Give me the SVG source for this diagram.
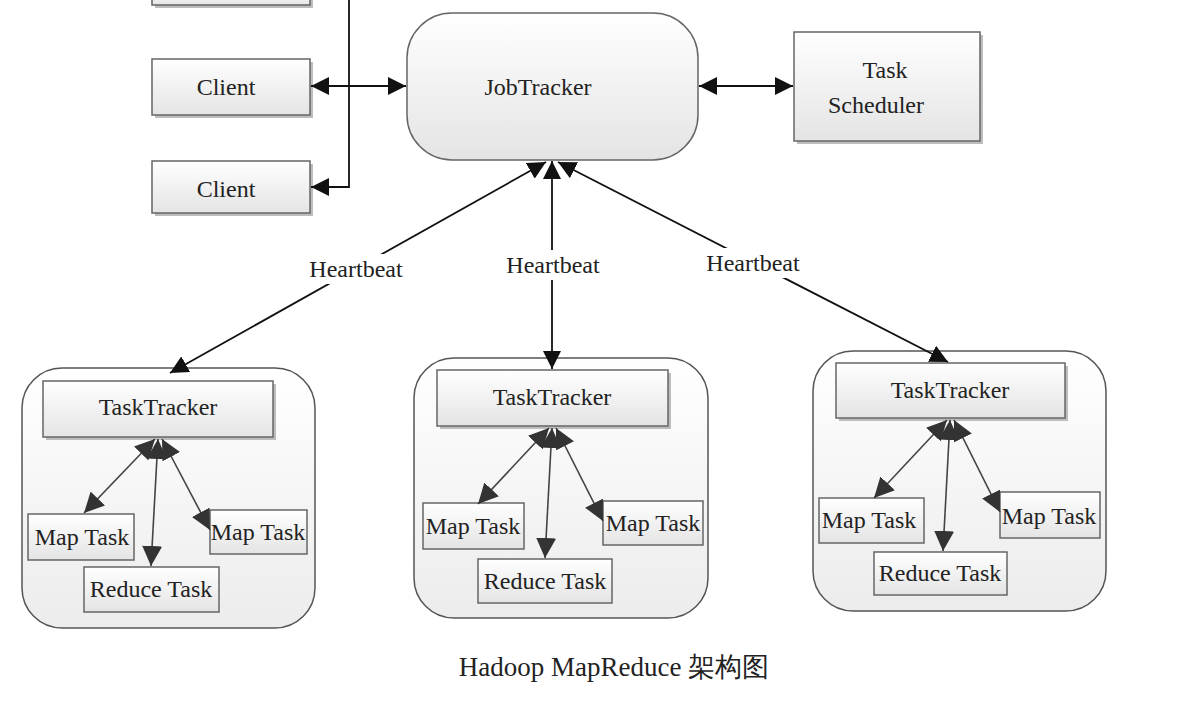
<svg xmlns="http://www.w3.org/2000/svg" width="1195" height="719" viewBox="0 0 1195 719">
<defs>
<linearGradient id="g" x1="0" y1="0" x2="0" y2="1"><stop offset="0" stop-color="#ffffff"/><stop offset="1" stop-color="#e4e4e4"/></linearGradient>
<linearGradient id="gc" x1="0" y1="0" x2="0" y2="1"><stop offset="0" stop-color="#ffffff"/><stop offset="1" stop-color="#ececec"/></linearGradient>
<marker id="a" viewBox="0 0 10 10" refX="10" refY="5" markerWidth="18" markerHeight="18" markerUnits="userSpaceOnUse" orient="auto-start-reverse"><path d="M0,0 L10,5 L0,10 Z" fill="#111"/></marker>
<marker id="b" viewBox="0 0 10 10" refX="10" refY="5" markerWidth="20" markerHeight="20" markerUnits="userSpaceOnUse" orient="auto-start-reverse"><path d="M0,0 L10,5 L0,10 Z" fill="#333"/></marker>
<style>
.box{fill:url(#g);stroke:#666;stroke-width:1.5}
.cont{fill:url(#gc);stroke:#555;stroke-width:1.5}
.sh{fill:#bdbdbd}
text{font-family:"Liberation Serif","Times New Roman",serif;fill:#222;font-size:24px;text-anchor:middle}
.c{stroke:#111;stroke-width:1.8;fill:none}
.t{stroke:#444;stroke-width:1.6;fill:none}
</style>
</defs>
<rect width="1195" height="719" fill="#fff"/>
<g id="client1"><rect class="sh" x="155" y="-4" width="158" height="12"/><rect class="box" x="152" y="-8" width="158" height="13"/></g>
<g id="client2"><rect class="sh" x="155" y="62" width="158" height="56"/><rect class="box" x="152" y="59" width="158" height="56"/><text x="226" y="95">Client</text></g>
<g id="client3"><rect class="sh" x="155" y="164" width="158" height="52"/><rect class="box" x="152" y="161" width="158" height="52"/><text x="226" y="197">Client</text></g>
<g id="jobtracker"><rect class="box" x="407" y="13" width="291" height="147" rx="45"/><text x="538" y="95">JobTracker</text></g>
<g id="scheduler"><rect class="sh" x="797" y="35" width="186" height="109"/><rect class="box" x="794" y="32" width="186" height="109"/><text x="885" y="78">Task</text><text x="876" y="113">Scheduler</text></g>

<g id="tt1">
<rect class="cont" x="22" y="368" width="293" height="260" rx="40"/>
<rect class="sh" x="46" y="384" width="230" height="56"/><rect class="box" x="43" y="381" width="230" height="56"/><text x="158" y="415">TaskTracker</text>
<rect class="box" x="28" y="514" width="106" height="46"/><text x="82" y="545">Map Task</text>
<rect class="box" x="84" y="567" width="135" height="45"/><text x="151" y="597">Reduce Task</text>
<rect class="box" x="210" y="510" width="97" height="44"/><text x="258" y="540">Map Task</text>
</g>
<g id="tt2">
<rect class="cont" x="414" y="358" width="294" height="260" rx="40"/>
<rect class="sh" x="440" y="373" width="231" height="56"/><rect class="box" x="437" y="370" width="231" height="56"/><text x="552" y="405">TaskTracker</text>
<rect class="box" x="423" y="503" width="101" height="46"/><text x="473" y="534">Map Task</text>
<rect class="box" x="478" y="559" width="134" height="44"/><text x="545" y="589">Reduce Task</text>
<rect class="box" x="603" y="501" width="100" height="44"/><text x="653" y="531">Map Task</text>
</g>
<g id="tt3">
<rect class="cont" x="813" y="351" width="293" height="260" rx="40"/>
<rect class="sh" x="839" y="366" width="229" height="55"/><rect class="box" x="836" y="363" width="229" height="55"/><text x="950" y="398">TaskTracker</text>
<rect class="box" x="819" y="498" width="105" height="45"/><text x="869" y="528">Map Task</text>
<rect class="box" x="874" y="552" width="133" height="43"/><text x="940" y="581">Reduce Task</text>
<rect class="box" x="1000" y="492" width="100" height="46"/><text x="1049" y="524">Map Task</text>
</g>

<g id="connectors">
<path class="c" d="M349,0 V187 H311" marker-end="url(#a)"/>
<line class="c" x1="311" y1="86" x2="406" y2="86" marker-start="url(#a)" marker-end="url(#a)"/>
<line class="c" x1="699" y1="86" x2="793" y2="86" marker-start="url(#a)" marker-end="url(#a)"/>
<line class="c" x1="546" y1="162" x2="170" y2="373" marker-start="url(#a)" marker-end="url(#a)"/>
<line class="c" x1="552" y1="161" x2="552" y2="369" marker-start="url(#a)" marker-end="url(#a)"/>
<line class="c" x1="558" y1="162" x2="948" y2="362" marker-start="url(#a)" marker-end="url(#a)"/>
<rect x="306" y="254" width="100" height="30" fill="#fff"/><text x="356" y="277">Heartbeat</text>
<rect x="503" y="250" width="100" height="30" fill="#fff"/><text x="553" y="273">Heartbeat</text>
<rect x="703" y="248" width="100" height="30" fill="#fff"/><text x="753" y="271">Heartbeat</text>

<line class="t" x1="155" y1="439" x2="84" y2="513" marker-start="url(#b)" marker-end="url(#b)"/>
<line class="t" x1="158" y1="439" x2="151" y2="566" marker-start="url(#b)" marker-end="url(#b)"/>
<line class="t" x1="162" y1="439" x2="210" y2="530" marker-start="url(#b)" marker-end="url(#b)"/>

<line class="t" x1="549" y1="428" x2="478" y2="504" marker-start="url(#b)" marker-end="url(#b)"/>
<line class="t" x1="552" y1="428" x2="545" y2="558" marker-start="url(#b)" marker-end="url(#b)"/>
<line class="t" x1="556" y1="428" x2="603" y2="521" marker-start="url(#b)" marker-end="url(#b)"/>

<line class="t" x1="947" y1="420" x2="874" y2="498" marker-start="url(#b)" marker-end="url(#b)"/>
<line class="t" x1="950" y1="420" x2="943" y2="551" marker-start="url(#b)" marker-end="url(#b)"/>
<line class="t" x1="954" y1="420" x2="1000" y2="512" marker-start="url(#b)" marker-end="url(#b)"/>
</g>
<text x="614" y="676" style="font-size:27px">Hadoop MapReduce 架构图</text>
</svg>
